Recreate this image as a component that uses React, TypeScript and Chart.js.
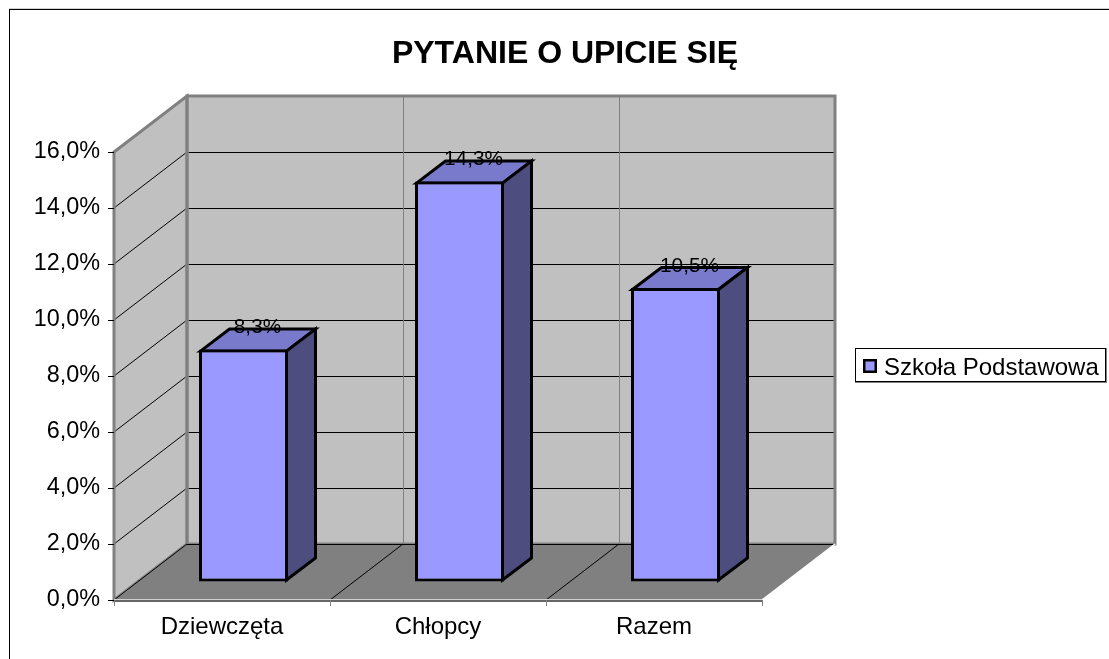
import React, { useEffect, useRef } from "react";
import { Chart, registerables } from "chart.js";

Chart.register(...registerables);

const categories = ["Dziewczęta", "Chłopcy", "Razem"];
const seriesName = "Szkoła Podstawowa";
const values = [8.3, 14.3, 10.5];
const titleText = "PYTANIE O UPICIE SIĘ";

const FONT = "'Liberation Sans', Arial, sans-serif";
const FACE = "#9999ff";
const WALL_DX = 73;
const WALL_DY = -56;
const BAR_SHIFT_X = 21.5;
const BAR_SHIFT_Y = -18;
const BAR_DX = 29;
const BAR_DY = -22;
const fmt = (v: number, d = 1) => v.toFixed(d).replace(".", ",") + "%";

function poly(ctx: CanvasRenderingContext2D, pts: number[][], fill: string | null, stroke: string | null, lw = 1) {
  ctx.beginPath();
  pts.forEach((p, i) => (i ? ctx.lineTo(p[0], p[1]) : ctx.moveTo(p[0], p[1])));
  ctx.closePath();
  if (fill) {
    ctx.fillStyle = fill;
    ctx.fill();
  }
  if (stroke) {
    ctx.strokeStyle = stroke;
    ctx.lineWidth = lw;
    ctx.lineJoin = "miter";
    ctx.stroke();
  }
}

function line(ctx: CanvasRenderingContext2D, x1: number, y1: number, x2: number, y2: number, color: string, lw = 1) {
  ctx.beginPath();
  ctx.moveTo(x1, y1);
  ctx.lineTo(x2, y2);
  ctx.strokeStyle = color;
  ctx.lineWidth = lw;
  ctx.stroke();
}

const scene3d = {
  id: "scene3d",
  afterLayout(chart: any) {
    // The reference's title and legend sit at places the default layout does not offer.
    const t = chart.titleBlock;
    t.left = 21;
    t.right = 1109;
    const l = chart.legend;
    l.left = 855;
    l.right = 1106;
    l.top = 348;
    l.bottom = 382;
  },
  beforeDraw(chart: any) {
    const { ctx, scales } = chart;
    const x = scales.x;
    const y = scales.y;
    const L = x.left;
    const R = x.right;
    const T = y.getPixelForValue(16);
    const B = y.getPixelForValue(0);
    const sideWall = [[L, B], [L, T], [L + WALL_DX, T + WALL_DY], [L + WALL_DX, B + WALL_DY]];
    const backWall = [[L + WALL_DX, T + WALL_DY], [R + WALL_DX, T + WALL_DY], [R + WALL_DX, B + WALL_DY], [L + WALL_DX, B + WALL_DY]];
    ctx.save();
    ctx.fillStyle = "#ffffff";
    ctx.fillRect(0, 0, chart.width, chart.height);
    // outer frame
    ctx.fillStyle = "#d4d4d4";
    ctx.fillRect(9, 8, 1100, 1);
    ctx.fillStyle = "#000000";
    ctx.fillRect(9, 9, 1100, 1);
    ctx.fillRect(9, 9, 1, 650);

    // walls
    poly(ctx, sideWall, "#c0c0c0", null);
    poly(ctx, backWall, "#c0c0c0", null);

    // grid lines from the value scale
    y.ticks.forEach((tk: any) => {
      const py = Math.round(y.getPixelForValue(tk.value));
      if (tk.value > 0 && tk.value < 16) {
        line(ctx, L, py, L + WALL_DX, py + WALL_DY, "#000000");
      }
      if (tk.value > 0) {
        line(ctx, L + WALL_DX, py + WALL_DY + 0.5, R + WALL_DX, py + WALL_DY + 0.5, "#000000");
      }
    });
    // dividers on the back wall from the category scale
    const n = categories.length;
    for (let i = 1; i < n; i++) {
      const px = L + ((R - L) * i) / n;
      line(ctx, px + WALL_DX + 0.5, T + WALL_DY, px + WALL_DX + 0.5, B + WALL_DY, "#808080", 1);
    }
    // wall edges
    poly(ctx, sideWall, null, "#808080", 3);
    poly(ctx, backWall, null, "#808080", 3);

    // floor and its lines
    poly(ctx, [[L, B], [R, B], [R + WALL_DX, B + WALL_DY], [L + WALL_DX, B + WALL_DY]], "#808080", null);
    for (let i = 0; i < n; i++) {
      const px = L + ((R - L) * i) / n;
      line(ctx, px, B, px + WALL_DX, B + WALL_DY, "#000000");
    }
    line(ctx, L + WALL_DX, B + WALL_DY + 0.5, R + WALL_DX, B + WALL_DY + 0.5, "#000000");
    line(ctx, R, B, R + WALL_DX, B + WALL_DY, "#ffffff", 1.5);
    line(ctx, L, B - 0.5, R, B - 0.5, "#d0d0d0", 1);
    line(ctx, L, B + 1, R, B + 1, "#666666", 2);

    // legend frame
    ctx.fillStyle = "#808080";
    ctx.fillRect(855, 348, 252, 35);
    ctx.fillStyle = "#000000";
    ctx.fillRect(855, 348, 251, 34);
    ctx.fillStyle = "#ffffff";
    ctx.fillRect(856, 349, 249, 32);
    // legend swatch
    ctx.fillStyle = "#000000";
    ctx.fillRect(863, 359, 14, 14);
    ctx.fillStyle = FACE;
    ctx.fillRect(865.5, 361.5, 9, 9);
    ctx.restore();
  },
  beforeDatasetsDraw(chart: any) {
    const { ctx } = chart;
    ctx.save();
    ctx.translate(BAR_SHIFT_X, BAR_SHIFT_Y);
    chart.getDatasetMeta(0).data.forEach((bar: any) => {
      const { x, y, base, width } = bar.getProps(["x", "y", "base", "width"], true);
      const l = x - width / 2 + 1.5;
      const r = x + width / 2 - 1.5;
      const t = y + 1.5;
      const b = base - 1.5;
      poly(ctx, [[l, t], [l + BAR_DX, t + BAR_DY], [r + BAR_DX, t + BAR_DY], [r, t]], "#7a7acc", "#000000", 3);
      poly(ctx, [[r, t], [r + BAR_DX, t + BAR_DY], [r + BAR_DX, b + BAR_DY], [r, b]], "#4d4d80", "#000000", 3);
    });
  },
  afterDatasetsDraw(chart: any) {
    const { ctx } = chart;
    ctx.restore();
    ctx.save();
    ctx.font = `20.8px ${FONT}`;
    ctx.fillStyle = "#000000";
    ctx.textAlign = "center";
    ctx.textBaseline = "middle";
    chart.getDatasetMeta(0).data.forEach((bar: any, i: number) => {
      const { x, y } = bar.getProps(["x", "y"], true);
      ctx.fillText(fmt(values[i]), x + BAR_SHIFT_X + 14, y + BAR_SHIFT_Y - 22);
    });
    ctx.restore();
  },
};

export default function App() {
  const ref = useRef<HTMLCanvasElement | null>(null);
  useEffect(() => {
    if (!ref.current) return;
    const chart = new Chart(ref.current, {
      type: "bar",
      data: {
        labels: categories,
        datasets: [
          {
            label: seriesName,
            data: values,
            backgroundColor: FACE,
            borderColor: "#000000",
            borderWidth: 3,
            borderSkipped: false,
            barPercentage: 89 / 216,
            categoryPercentage: 1,
            clip: false as any,
          },
        ],
      },
      plugins: [scene3d],
      options: {
        responsive: false,
        animation: false,
        layout: { padding: { left: 0, top: 0, right: 347, bottom: 0 } },
        plugins: {
          title: {
            display: true,
            text: titleText,
            color: "#000000",
            font: { family: FONT, size: 32, weight: "bold", lineHeight: 1.2 },
            padding: { top: 34.8, bottom: 78.8 },
          },
          legend: {
            display: true,
            position: "chartArea",
            align: "start",
            labels: {
              color: "#000000",
              boxWidth: 9,
              boxHeight: 12,
              padding: 8,
              font: { family: FONT, size: 24 },
              generateLabels: () => [
                { text: seriesName, fillStyle: "rgba(0,0,0,0)", strokeStyle: "rgba(0,0,0,0)", lineWidth: 0, datasetIndex: 0 },
              ],
            },
          },
          tooltip: { enabled: false },
        },
        scales: {
          x: {
            offset: true,
            afterFit: (s: any) => {
              s.height = 59;
            },
            border: { display: false },
            grid: { display: true, drawOnChartArea: false, drawTicks: true, tickLength: 6, color: "#808080", offset: true },
            ticks: { color: "#000000", padding: 7, maxRotation: 0, font: { family: FONT, size: 24 } },
          },
          y: {
            min: 0,
            max: 16,
            afterFit: (s: any) => {
              s.width = 114;
            },
            border: { display: false },
            grid: { display: true, drawOnChartArea: false, drawTicks: true, tickLength: 6, color: "#000000" },
            ticks: {
              stepSize: 2,
              color: "#000000",
              padding: 8,
              font: { family: FONT, size: 23.4 },
              callback: (v: any) => fmt(Number(v)),
            },
          },
        },
      } as any,
    });
    return () => chart.destroy();
  }, []);
  return (
    <div style={{ position: "fixed", left: 0, top: 0, width: 1109, height: 659, overflow: "hidden", background: "#fff" }}>
      <canvas ref={ref} width={1109} height={659} style={{ display: "block" }} />
    </div>
  );
}
